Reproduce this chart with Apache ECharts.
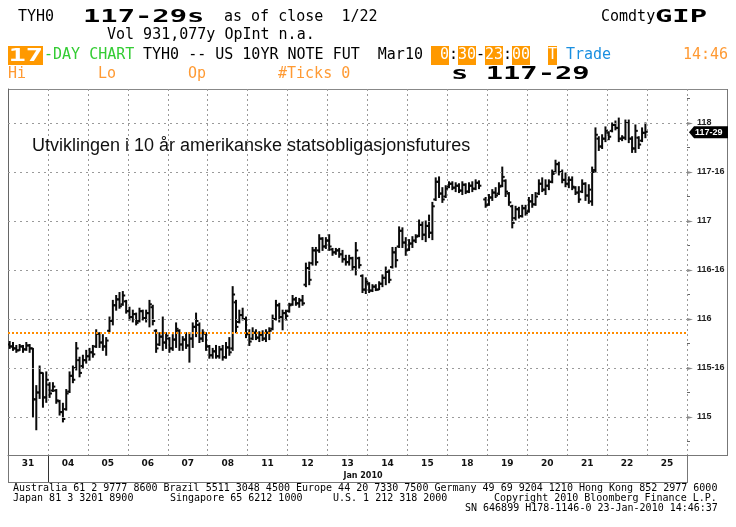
<!DOCTYPE html>
<html>
<head>
<meta charset="utf-8">
<script src="https://cdn.jsdelivr.net/npm/echarts@6/dist/echarts.min.js"></script>
<style>
html,body{margin:0;padding:0;background:#fff;}
#chart{width:736px;height:527px;}
</style>
</head>
<body>
<div id="chart"></div>
<script>
// ---- data ----
const days = ['31','04','05','06','07','08','11','12','13','14','15','18','19','20','21','22','25'];
const yLabelValues = [115, 115.5, 116, 116.5, 117, 117.5, 118];
const yMinorTicks = [114.75, 115.25, 115.75, 116.25, 116.75, 117.25, 117.75, 118.25];
const refLevel = 115.86;
const lastPrice = 117.906;
const barsPerDay = 12;

const high = [
115.77,115.76,115.73,115.74,115.73,115.76,115.74,115.70,115.32,115.52,115.45,115.46,
115.35,115.35,115.28,115.17,115.14,115.28,115.46,115.52,115.76,115.61,115.63,115.68,
115.70,115.73,115.89,115.86,115.84,115.81,116.02,116.19,116.24,116.27,116.28,116.19,
116.12,116.09,116.06,116.11,116.09,116.09,116.19,116.14,115.89,115.86,116.02,115.86,
115.81,115.84,115.96,115.89,115.82,115.86,115.86,115.96,116.06,115.96,115.89,115.86,
115.73,115.70,115.73,115.72,115.73,115.76,115.81,116.33,116.19,116.09,116.11,116.02,
115.89,115.91,115.89,115.87,115.88,115.89,115.91,116.04,116.19,116.16,116.09,116.09,
116.16,116.24,116.22,116.21,116.24,116.57,116.58,116.73,116.73,116.86,116.83,116.83,
116.86,116.72,116.72,116.72,116.70,116.65,116.65,116.63,116.78,116.63,116.45,116.42,
116.37,116.35,116.35,116.38,116.45,116.53,116.50,116.73,116.73,116.94,116.93,116.83,
116.81,116.84,116.86,117.01,116.99,117.00,117.06,117.19,117.44,117.45,117.34,117.36,
117.40,117.40,117.39,117.38,117.40,117.38,117.39,117.40,117.42,117.41,null,117.24,
117.27,117.32,117.34,117.39,117.55,117.42,117.29,117.16,117.15,117.14,117.16,117.16,
117.24,117.27,117.29,117.42,117.44,117.42,117.42,117.52,117.62,117.60,117.52,117.49,
117.45,117.45,117.35,117.35,117.42,117.39,117.37,117.55,117.95,117.86,117.88,117.96,
117.91,118.00,118.02,118.05,117.87,118.03,118.03,117.86,117.98,117.86,117.95,118.00
];
const low = [
115.70,115.68,115.66,115.68,115.66,115.68,115.66,115.00,114.87,115.19,115.10,115.15,
115.20,115.26,115.14,115.02,114.95,115.07,115.25,115.35,115.48,115.41,115.50,115.55,
115.58,115.61,115.71,115.71,115.68,115.63,115.87,115.94,116.09,116.11,116.14,116.06,
115.99,115.97,115.94,115.97,115.99,115.97,115.92,115.94,115.66,115.73,115.68,115.70,
115.66,115.68,115.71,115.68,115.68,115.70,115.56,115.71,115.82,115.76,115.77,115.68,
115.60,115.60,115.60,115.60,115.58,115.60,115.63,115.68,115.86,115.96,115.99,115.81,
115.73,115.79,115.79,115.77,115.78,115.77,115.79,115.89,115.99,115.97,115.89,115.99,
116.07,116.14,116.14,116.12,116.14,116.33,116.35,116.55,116.55,116.68,116.70,116.72,
116.70,116.65,116.66,116.63,116.58,116.55,116.55,116.50,116.45,116.52,116.27,116.26,
116.27,116.28,116.29,116.30,116.33,116.35,116.37,116.52,116.53,116.73,116.73,116.65,
116.70,116.73,116.78,116.84,116.81,116.79,116.83,116.81,117.21,117.24,117.19,117.24,
117.34,117.32,117.30,117.29,117.27,117.28,117.29,117.30,117.32,117.33,null,117.14,
117.16,117.21,117.24,117.27,117.35,117.25,117.16,116.93,117.01,117.03,117.04,117.06,
117.09,117.14,117.16,117.27,117.30,117.27,117.32,117.39,117.49,117.47,117.39,117.35,
117.34,117.32,117.27,117.19,117.29,117.21,117.18,117.16,117.50,117.72,117.74,117.81,
117.83,117.91,117.93,117.81,117.82,117.83,117.80,117.70,117.70,117.74,117.81,117.85
];
const open = [
115.74,115.72,115.70,115.68,115.72,115.69,115.73,115.70,115.18,115.25,115.45,115.20,
115.33,115.27,115.27,115.16,115.05,115.08,115.26,115.42,115.50,115.58,115.52,115.58,
115.62,115.66,115.72,115.85,115.76,115.72,115.88,115.98,116.14,116.20,116.15,116.18,
116.08,116.02,116.05,115.98,116.08,116.01,116.06,116.12,115.88,115.74,115.82,115.76,
115.80,115.70,115.79,115.88,115.74,115.79,115.73,115.80,115.92,115.94,115.80,115.85,
115.72,115.63,115.67,115.62,115.69,115.61,115.71,115.70,116.17,115.97,116.04,116.00,
115.85,115.80,115.86,115.81,115.84,115.80,115.86,115.90,116.00,116.14,116.02,116.06,
116.08,116.15,116.20,116.16,116.19,116.35,116.52,116.57,116.70,116.70,116.82,116.74,
116.80,116.71,116.68,116.70,116.66,116.61,116.58,116.62,116.53,116.62,116.44,116.30,
116.36,116.29,116.33,116.30,116.36,116.42,116.48,116.53,116.68,116.74,116.90,116.78,
116.71,116.77,116.80,116.85,116.96,116.86,116.95,116.88,117.22,117.40,117.28,117.25,
117.35,117.38,117.34,117.36,117.31,117.37,117.30,117.36,117.33,117.39,null,117.22,
117.17,117.24,117.29,117.28,117.36,117.41,117.28,117.15,117.03,117.12,117.05,117.13,
117.10,117.20,117.17,117.28,117.38,117.32,117.36,117.40,117.50,117.58,117.50,117.42,
117.38,117.42,117.34,117.29,117.30,117.38,117.26,117.20,117.52,117.84,117.76,117.84,
117.90,117.92,117.98,117.95,117.84,117.85,118.00,117.84,117.74,117.85,117.82,117.90
];
const close = [
115.72,115.70,115.68,115.72,115.69,115.73,115.70,115.18,115.25,115.45,115.20,115.38,
115.24,115.31,115.17,115.05,114.98,115.24,115.42,115.38,115.70,115.45,115.58,115.62,
115.66,115.64,115.85,115.76,115.72,115.78,115.98,116.14,116.20,116.13,116.24,116.08,
116.02,116.05,115.96,116.08,116.01,116.06,116.15,115.98,115.70,115.82,115.76,115.83,
115.70,115.79,115.90,115.74,115.79,115.73,115.80,115.92,115.98,115.80,115.86,115.72,
115.63,115.67,115.62,115.69,115.61,115.71,115.66,116.25,115.92,116.04,116.00,115.85,
115.77,115.86,115.81,115.84,115.80,115.86,115.88,116.00,116.14,116.02,116.06,116.03,
116.14,116.20,116.16,116.19,116.16,116.52,116.40,116.70,116.58,116.82,116.74,116.80,
116.74,116.68,116.70,116.66,116.61,116.58,116.62,116.53,116.70,116.55,116.30,116.38,
116.29,116.33,116.30,116.36,116.42,116.48,116.40,116.68,116.60,116.90,116.78,116.70,
116.77,116.80,116.84,116.96,116.86,116.95,116.88,117.15,117.40,117.28,117.22,117.33,
117.38,117.34,117.36,117.31,117.37,117.30,117.36,117.33,117.39,117.36,null,117.16,
117.24,117.29,117.26,117.35,117.45,117.30,117.19,116.98,117.12,117.05,117.13,117.08,
117.20,117.17,117.25,117.38,117.32,117.36,117.40,117.48,117.58,117.50,117.42,117.38,
117.42,117.35,117.29,117.22,117.38,117.26,117.32,117.50,117.88,117.76,117.84,117.92,
117.86,117.98,117.95,117.84,117.85,118.00,117.84,117.74,117.92,117.78,117.90,117.91
];

// ---- helpers ----
function fmt32(v){
  const n = Math.floor(v + 1e-9);
  const f = Math.round((v - n) * 32);
  return f ? n + '-' + f : '' + n;
}
const ohlc = [];
for (let i = 0; i < high.length; i++) {
  if (high[i] == null) continue;
  ohlc.push([i + 0.5, high[i], low[i], open[i], close[i]]);
}

const GRID = {left: 8, top: 89, width: 679, height: 366};
const yMin = 114.6122, yMax = 118.3469;

const MONO = '15px "DejaVu Sans Mono"';
const BIG = 'bold 18px "DejaVu Sans Mono"';
const ORANGE = '#ff9900';
const ORANGE_TXT = '#ff9a33';

function T(x, y, text, fill, font, extra){
  return Object.assign({type:'text', x:x, y:y, silent:true,
    style:{text:text, fill:fill || '#000', font:font || MONO, verticalAlign:'middle', align:'left'}}, extra || {});
}
function B(x, y, text, fill){ return T(x, y, text, fill || '#000', BIG, {scaleX:1.6}); }
function R(x, y, w, h, fill){ return {type:'rect', silent:true, shape:{x:x,y:y,width:w,height:h}, style:{fill:fill}}; }
function L(x1, y1, x2, y2, c, w){ return {type:'line', silent:true, shape:{x1:x1,y1:y1,x2:x2,y2:y2}, style:{stroke:c || '#888', lineWidth:w || 1}}; }

const graphics = [
  T(18, 17, 'TYH0'),
  B(83, 17, '117-29s'),
  T(224, 17, 'as of close  1/22'),
  T(601, 17, 'Comdty'),
  B(655, 17, 'GIP'),
  T(107, 35, 'Vol 931,077y OpInt n.a.'),
  R(8, 46, 35, 19, ORANGE),
  B(8.5, 56, '17', '#fff'),
  T(44, 55, '-DAY CHART', '#33cc33'),
  T(143, 55, 'TYH0 -- US 10YR NOTE FUT  Mar10', '#000'),
  R(431, 46, 18, 19, ORANGE), R(458, 46, 18, 19, ORANGE), R(485, 46, 18, 19, ORANGE), R(512, 46, 18, 19, ORANGE), R(548, 46, 9, 19, ORANGE),
  T(431, 55, ' 0', '#fff'), T(449, 55, ':', '#000'), T(458, 55, '30', '#fff'), T(476, 55, '-', '#000'),
  T(485, 55, '23', '#fff'), T(503, 55, ':', '#000'), T(512, 55, '00', '#fff'), T(548, 55, 'T', '#fff'),
  T(566, 55, 'Trade', '#1a8fe0'),
  T(683, 55, '14:46', ORANGE_TXT),
  T(8, 74, 'Hi', ORANGE_TXT), T(98, 74, 'Lo', ORANGE_TXT), T(188, 74, 'Op', ORANGE_TXT), T(278, 74, '#Ticks 0', ORANGE_TXT),
  B(451, 74, 's 117-29'),
  T(32, 146, 'Utviklingen i 10 år amerikanske statsobligasjonsfutures', '#111', '18px "Liberation Sans"', {z:10}),
  L(8, 89.5, 728, 89.5, '#888'),
  L(8.5, 89, 8.5, 482, '#777'),
  L(727.5, 89, 727.5, 456, '#777'),
  L(687, 455.5, 728, 455.5, '#777'),
  L(687.5, 455, 687.5, 482, '#777'),
  L(8, 482.5, 688, 482.5, '#777'),
  L(48.5, 455, 48.5, 482, '#333'),
  {type:'text', x:363, y:476, silent:true, style:{text:'Jan 2010', fill:'#111', font:'bold 8px "DejaVu Sans"', align:'center', verticalAlign:'middle'}},
  T(13, 488, 'Australia 61 2 9777 8600 Brazil 5511 3048 4500 Europe 44 20 7330 7500 Germany 49 69 9204 1210 Hong Kong 852 2977 6000', '#000', '10px "DejaVu Sans Mono"'),
  T(13, 498, 'Japan 81 3 3201 8900', '#000', '10px "DejaVu Sans Mono"'),
  T(170, 498, 'Singapore 65 6212 1000', '#000', '10px "DejaVu Sans Mono"'),
  T(333, 498, 'U.S. 1 212 318 2000', '#000', '10px "DejaVu Sans Mono"'),
  T(494, 498, 'Copyright 2010 Bloomberg Finance L.P.', '#000', '10px "DejaVu Sans Mono"'),
  T(465, 508, 'SN 646899 H178-1146-0 23-Jan-2010 14:46:37', '#000', '10px "DejaVu Sans Mono"')
];

const chart = echarts.init(document.getElementById('chart'), null, {renderer:'canvas'});
chart.setOption({
  backgroundColor:'#fff',
  animation:false,
  grid: GRID,
  xAxis: [
    {type:'value', min:0, max:days.length * barsPerDay, show:false},
    {type:'category', data:days, position:'bottom', boundaryGap:true,
     axisLine:{show:true, lineStyle:{color:'#777', width:1}},
     axisTick:{show:false},
     axisLabel:{interval:0, margin:4, color:'#111', fontSize:9, fontWeight:'bold', fontFamily:'"DejaVu Sans"'},
     splitLine:{show:true, interval:0, lineStyle:{color:'#999', type:[2,3], width:1}}}
  ],
  yAxis: [{
    type:'value', position:'right', min:yMin, max:yMax,
    axisLine:{show:true, lineStyle:{color:'#666', width:1}},
    axisTick:{show:false},
    axisLabel:{show:true, customValues:yLabelValues, margin:10, color:'#222', fontSize:9, fontWeight:'bold',
      fontFamily:'"Liberation Sans"', formatter:fmt32},
    splitLine:{show:false}
  }],
  graphic: graphics,
  series: [
    {type:'line', xAxisIndex:0, yAxisIndex:0, data:[], z:1, silent:true,
     markLine:{silent:true, symbol:'none', animation:false,
       label:{show:false},
       lineStyle:{color:'#9a9a9a', type:[2,4], width:1},
       data: yLabelValues.map(v => ({yAxis:v}))}},
    {type:'custom', xAxisIndex:0, yAxisIndex:0, z:3, clip:true, silent:true,
     encode:{x:0, y:[1,2]},
     data: ohlc,
     renderItem: function(params, api){
       const x = api.value(0);
       const h = api.coord([x, api.value(1)]);
       const l = api.coord([x, api.value(2)]);
       const o = api.coord([x, api.value(3)]);
       const c = api.coord([x, api.value(4)]);
       const cx = h[0];
       const st = {stroke:'#0a0a0a', lineWidth:2};
       return {type:'group', children:[
         {type:'line', shape:{x1:cx, y1:h[1]-0.5, x2:cx, y2:l[1]+0.5}, style:st},
         {type:'line', shape:{x1:cx-2.4, y1:o[1], x2:cx, y2:o[1]}, style:st},
         {type:'line', shape:{x1:cx, y1:c[1], x2:cx+2.4, y2:c[1]}, style:st}
       ]};
     }},
    {type:'line', xAxisIndex:0, yAxisIndex:0, data:[], z:5, silent:true,
     markLine:{silent:true, symbol:'none', animation:false,
       data:[
         {yAxis:refLevel, lineStyle:{color:'#ff8c00', type:[2,2], width:2}, label:{show:false}}
       ]}}
  ]
});

// axis ticks and last-price tag, positioned through the library's y scale
const axisX = GRID.left + GRID.width;
const extra = [];
yLabelValues.forEach(v => {
  const y = Math.round(chart.convertToPixel({yAxisIndex:0}, v)) + 0.5;
  extra.push({type:'polygon', silent:true, shape:{points:[[axisX, y-1.5],[axisX+6, y],[axisX, y+1.5]]}, style:{fill:'#888'}});
});
yMinorTicks.forEach(v => {
  const y = Math.round(chart.convertToPixel({yAxisIndex:0}, v)) + 0.5;
  extra.push({type:'line', silent:true, shape:{x1:axisX, y1:y, x2:axisX+3, y2:y}, style:{stroke:'#666', lineWidth:1}});
});
const py = chart.convertToPixel({yAxisIndex:0}, lastPrice);
extra.push({type:'polygon', silent:true, z:20,
  shape:{points:[[axisX+2, py],[axisX+7, py-6],[728, py-6],[728, py+6],[axisX+7, py+6]]}, style:{fill:'#000'}});
extra.push({type:'text', silent:true, z:21, x:axisX+8, y:py,
  style:{text:fmt32(lastPrice), fill:'#fff', font:'bold 9px "Liberation Sans"', verticalAlign:'middle', align:'left'}});
chart.setOption({graphic: graphics.concat(extra)});
</script>
</body>
</html>
